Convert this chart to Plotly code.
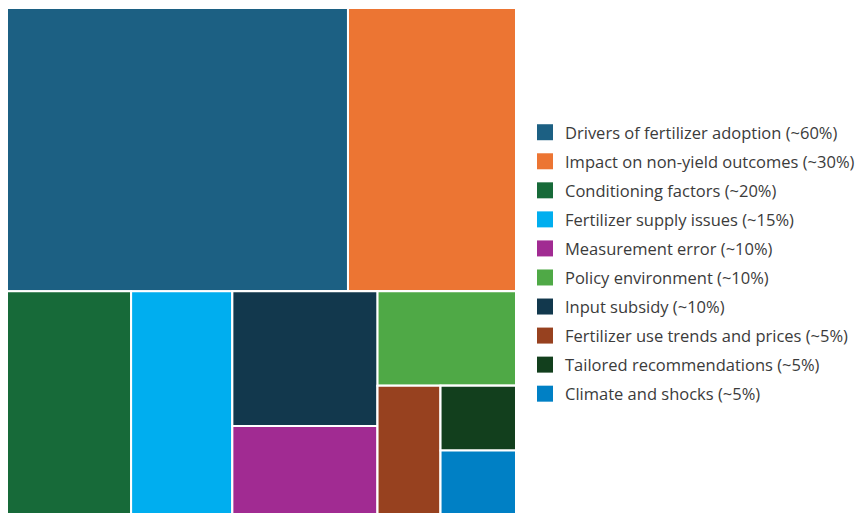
import plotly.graph_objects as go

# Legend categories (in legend order) with their labelled shares
categories = [
    "Drivers of fertilizer adoption",
    "Impact on non-yield outcomes",
    "Conditioning factors",
    "Fertilizer supply issues",
    "Measurement error",
    "Policy environment",
    "Input subsidy",
    "Fertilizer use trends and prices",
    "Tailored recommendations",
    "Climate and shocks",
]
shares = [60, 30, 20, 15, 10, 10, 10, 5, 5, 5]
# Relative tile areas
cell_sizes = [96.8, 47.7, 27.7, 22.6, 12.8, 13.1, 19.6, 8.1, 4.9, 4.8]
colors = [
    "#1c6083", "#ec7533", "#176a39", "#00aeef", "#a12b92",
    "#4fa946", "#12384d", "#97411f", "#123f1d", "#0080c5",
]

# Grouping used to nest the tiles (children in drawing order)
tile_groups = {
    "all": ["top", "bottom"],
    "top": ["Drivers of fertilizer adoption", "Impact on non-yield outcomes"],
    "bottom": ["Conditioning factors", "Fertilizer supply issues", "g3", "g4"],
    "g3": ["Input subsidy", "Measurement error"],
    "g4": ["Policy environment", "g4b"],
    "g4b": ["Fertilizer use trends and prices", "g4c"],
    "g4c": ["Tailored recommendations", "Climate and shocks"],
}

size_of = dict(zip(categories, cell_sizes))
color_of = dict(zip(categories, colors))

ids, parents, values, node_colors = [], [], [], []


def walk(node, parent):
    ids.append(node)
    parents.append(parent)
    if node in tile_groups:
        values.append(0)
        node_colors.append("white")
        for child in tile_groups[node]:
            walk(child, node)
    else:
        values.append(size_of[node])
        node_colors.append(color_of[node])


walk("all", "")

W, H = 864, 514

fig = go.Figure()
fig.add_trace(go.Treemap(
    ids=ids,
    labels=ids,
    parents=parents,
    values=values,
    branchvalues="remainder",
    sort=False,
    textinfo="none",
    hoverinfo="skip",
    marker=dict(
        colors=node_colors,
        line=dict(color="white", width=2),
        pad=dict(t=0, l=0, r=0, b=0),
        depthfade=False,
    ),
    tiling=dict(packing="dice-slice", pad=0),
    pathbar=dict(visible=False),
    domain=dict(x=[7 / W, 516 / W], y=[0, 1 - 8 / H]),
))

for cat, share, col in zip(categories, shares, colors):
    fig.add_trace(go.Scatter(
        x=[None], y=[None], mode="markers",
        marker=dict(symbol="square", size=17, color=col),
        name=f"{cat} (~{share}%)",
        legendgroup=cat,
        showlegend=True,
    ))

fig.update_layout(
    width=W, height=H,
    margin=dict(l=0, r=0, t=0, b=0),
    paper_bgcolor="white",
    plot_bgcolor="white",
    xaxis=dict(visible=False),
    yaxis=dict(visible=False),
    font=dict(family="Open Sans", size=16.5, color="#3b3b3b"),
    legend=dict(
        x=525 / W, xanchor="left",
        y=1 - 263 / H, yanchor="middle",
        tracegroupgap=4.6,
        itemsizing="trace",
        bgcolor="rgba(0,0,0,0)",
        font=dict(family="Open Sans", size=16.5, color="#3b3b3b"),
    ),
)

fig.write_html("out.html")
